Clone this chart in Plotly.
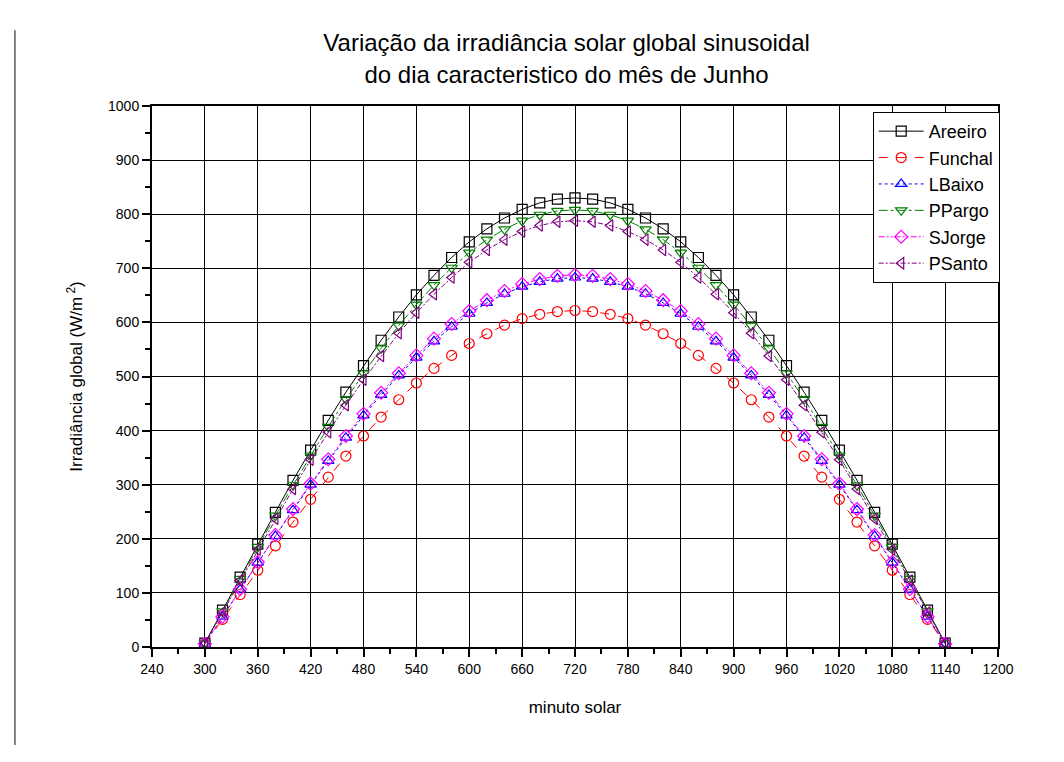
import plotly.graph_objects as go

minutes = list(range(300, 1141, 20))

# first half (300..720); curves are symmetric about 720
areeiro_half = [7, 68, 129, 190, 249, 308, 364, 419, 471, 520, 567, 610, 651, 687, 720, 749, 773, 793, 809, 821, 828, 830]
funchal_half = [6, 51, 97, 142, 187, 231, 273, 314, 353, 390, 425, 457, 488, 515, 539, 561, 579, 595, 607, 615, 620, 622]
lbaixo_half = [6, 56, 106, 156, 205, 253, 300, 344, 387, 428, 466, 502, 535, 565, 592, 616, 636, 653, 666, 675, 681, 683]
ppargo_half = [7, 66, 126, 185, 243, 299, 354, 407, 458, 506, 552, 594, 633, 669, 701, 729, 753, 772, 788, 799, 806, 808]
sjorge_half = [6, 56, 107, 157, 207, 255, 302, 347, 390, 431, 470, 506, 539, 570, 597, 621, 641, 658, 671, 680, 686, 688]
psanto_half = [7, 64, 123, 180, 237, 292, 346, 397, 447, 494, 538, 580, 618, 652, 683, 711, 734, 753, 768, 779, 786, 788]


def full(half):
    return half + half[-2::-1]


SERIES = [
    ("Areeiro", full(areeiro_half), "#000000", "solid", "square-open"),
    ("Funchal", full(funchal_half), "#FF0000", "dash", "circle-open"),
    ("LBaixo", full(lbaixo_half), "#0000FF", "dot", "triangle-up-open"),
    ("PPargo", full(ppargo_half), "#008000", "dashdot", "triangle-down-open"),
    ("SJorge", full(sjorge_half), "#FF00FF", "6px,2px,2px,2px,2px,2px", "diamond-open"),
    ("PSanto", full(psanto_half), "#800080", "5px,2px,2px,2px", "triangle-left-open"),
]

FONT = "Liberation Sans, Arial, sans-serif"

fig = go.Figure()
for name, ys, color, dash, symbol in SERIES:
    fig.add_trace(go.Scatter(
        x=minutes,
        y=ys,
        mode="lines+markers",
        name=name,
        line=dict(color=color, width=1, dash=dash),
        marker=dict(symbol=symbol, size=10, color=color, line=dict(width=1.2, color=color)),
    ))

axis_common = dict(
    showline=True, linecolor="black", linewidth=2, mirror=True,
    showgrid=True, gridcolor="black", gridwidth=1,
    ticks="outside", ticklen=8, tickwidth=2, tickcolor="black",
    tickfont=dict(family=FONT, size=14, color="black"),
    zeroline=False,
)

fig.update_layout(
    width=1064, height=762,
    plot_bgcolor="white", paper_bgcolor="white",
    margin=dict(l=144, r=74, t=98, b=123),
    title=dict(
        text="Variação da irradiância solar global sinusoidal<br>do dia caracteristico do mês de Junho",
        x=0.525, xanchor="center", y=0.943, yanchor="top",
        font=dict(family=FONT, size=24, color="black"),
    ),
    xaxis=dict(
        range=[240, 1200], dtick=60, tick0=240,
        minor=dict(ticks="outside", ticklen=5, dtick=30, tickcolor="black", tickwidth=2, showgrid=False),
        title=dict(text="minuto solar", font=dict(family=FONT, size=17, color="black"), standoff=25),
        **axis_common,
    ),
    yaxis=dict(
        range=[0, 1000], dtick=100,
        minor=dict(ticks="outside", ticklen=5, dtick=50, tickcolor="black", tickwidth=2, showgrid=False),
        title=dict(text="Irradiância global (W/m<sup> 2</sup>)", font=dict(family=FONT, size=17, color="black"), standoff=21),
        **axis_common,
    ),
    legend=dict(
        x=1.002, xanchor="right", y=0.989, yanchor="top",
        bgcolor="white", bordercolor="black", borderwidth=1,
        font=dict(family=FONT, size=18, color="black"),
        tracegroupgap=0, itemwidth=45,
    ),
    shapes=[dict(
        type="line", xref="paper", yref="paper",
        x0=-0.162, x1=-0.162, y0=1.14, y1=-0.181,
        line=dict(color="black", width=1),
    )],
)

fig.write_html("out.html")
